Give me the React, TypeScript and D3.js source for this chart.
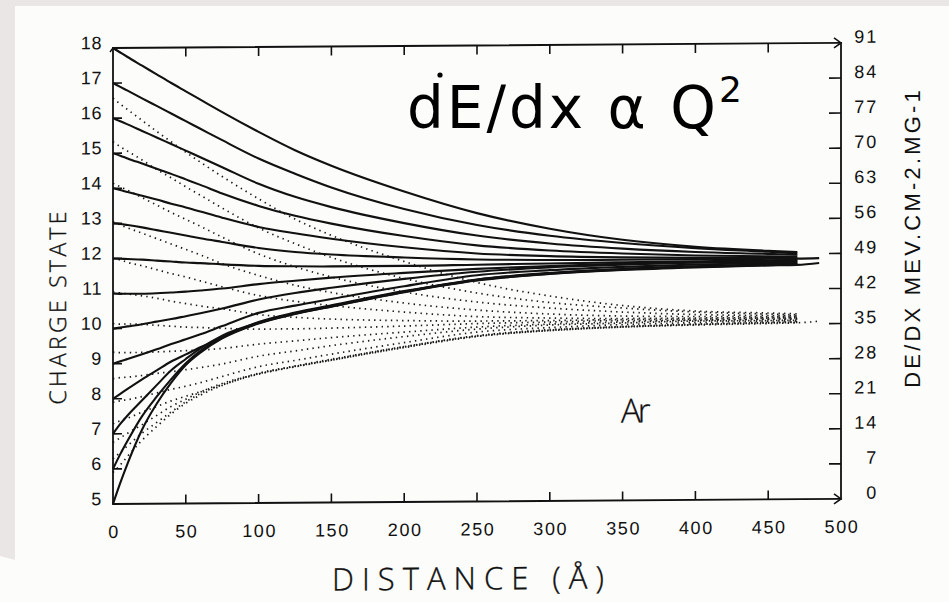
import React from 'react';
import * as d3 from 'd3';

// Distance samples (Å) shared by every curve
const DIST = [0, 5, 10, 20, 30, 40, 50, 60, 75, 100, 125, 150, 200, 250, 300, 350, 400, 450, 470, 485];

// Mean charge state vs. distance, one series per initial charge state
const q18 = [18, 17.87, 17.74, 17.49, 17.24, 16.99, 16.75, 16.51, 16.15, 15.58, 15.05, 14.6, 13.85, 13.22, 12.76, 12.43, 12.22, 12.09, 12.05, null];
const q17 = [17, 16.89, 16.78, 16.56, 16.34, 16.12, 15.9, 15.68, 15.35, 14.82, 14.38, 13.98, 13.35, 12.88, 12.56, 12.34, 12.18, 12.06, 12.01, null];
const q16 = [16, 15.91, 15.82, 15.63, 15.44, 15.25, 15.06, 14.87, 14.58, 14.1, 13.72, 13.42, 12.95, 12.58, 12.34, 12.18, 12.07, 12.0, 11.97, null];
const q15 = [15, 14.93, 14.85, 14.7, 14.55, 14.4, 14.24, 14.08, 13.83, 13.47, 13.18, 12.95, 12.58, 12.3, 12.14, 12.04, 11.97, 11.93, 11.92, null];
const q14 = [14, 13.95, 13.89, 13.78, 13.67, 13.55, 13.44, 13.32, 13.14, 12.87, 12.68, 12.52, 12.26, 12.07, 11.98, 11.93, 11.9, 11.89, 11.88, null];
const q13 = [13, 12.98, 12.95, 12.88, 12.8, 12.72, 12.64, 12.56, 12.45, 12.27, 12.15, 12.07, 11.97, 11.9, 11.87, 11.86, 11.86, 11.86, 11.86, 11.87];
const q12 = [12, 11.99, 11.98, 11.96, 11.93, 11.9, 11.87, 11.85, 11.81, 11.76, 11.74, 11.73, 11.73, 11.75, 11.77, 11.79, 11.8, 11.82, 11.82, null];
const q11 = [11, 10.99, 10.99, 10.99, 11.0, 11.02, 11.04, 11.07, 11.12, 11.24, 11.33, 11.41, 11.53, 11.63, 11.7, 11.75, 11.78, 11.8, 11.8, null];
const q10 = [10, 10.03, 10.06, 10.12, 10.19, 10.26, 10.34, 10.42, 10.55, 10.8, 10.98, 11.12, 11.36, 11.55, 11.66, 11.72, 11.76, 11.77, 11.77, null];
const q9 = [9, 9.07, 9.13, 9.26, 9.4, 9.55, 9.68, 9.82, 10.05, 10.42, 10.62, 10.8, 11.15, 11.45, 11.58, 11.66, 11.71, 11.74, 11.75, null];
const q8 = [8, 8.14, 8.28, 8.55, 8.8, 9.05, 9.25, 9.45, 9.72, 10.16, 10.42, 10.62, 11.01, 11.33, 11.5, 11.6, 11.66, 11.7, 11.71, null];
const q7 = [7, 7.28, 7.52, 7.95, 8.38, 8.8, 9.12, 9.42, 9.78, 10.14, 10.4, 10.6, 11.0, 11.32, 11.49, 11.59, 11.65, 11.69, 11.7, null];
const q6 = [6, 6.42, 6.8, 7.5, 8.05, 8.55, 9.0, 9.35, 9.73, 10.13, 10.39, 10.59, 10.99, 11.31, 11.48, 11.58, 11.64, 11.68, 11.69, null];
const q5 = [5, 5.6, 6.15, 7.12, 7.85, 8.45, 8.95, 9.3, 9.7, 10.12, 10.38, 10.58, 10.98, 11.3, 11.47, 11.57, 11.63, 11.67, 11.68, 11.73];

// Stopping power (MeV cm2/mg) along the same paths
const e18 = [81.0, 79.8, 78.7, 76.5, 74.3, 72.2, 70.1, 68.1, 65.2, 60.7, 56.6, 53.3, 48.0, 43.7, 40.9, 38.9, 37.7, 37.2, 37.0, null];
const e17 = [72.3, 71.3, 70.4, 68.6, 66.7, 65.0, 63.2, 61.5, 58.9, 54.9, 51.7, 48.9, 44.6, 41.6, 39.6, 38.4, 37.5, 37.0, 36.8, null];
const e16 = [64.0, 63.3, 62.6, 61.1, 59.6, 58.1, 56.7, 55.3, 53.1, 49.7, 47.1, 45.0, 41.9, 39.8, 38.5, 37.6, 37.0, 36.7, 36.6, null];
const e15 = [56.3, 55.7, 55.1, 54.0, 52.9, 51.8, 50.7, 49.6, 47.8, 45.4, 43.4, 41.9, 39.7, 38.2, 37.3, 36.8, 36.6, 36.5, 36.5, null];
const e14 = [49.0, 48.7, 48.2, 47.5, 46.7, 45.9, 45.2, 44.4, 43.2, 41.4, 40.2, 39.3, 37.9, 36.9, 36.5, 36.3, 36.3, 36.3, 36.3, null];
const e13 = [42.3, 42.1, 41.9, 41.5, 41.0, 40.4, 39.9, 39.4, 38.8, 37.6, 37.0, 36.6, 36.2, 36.0, 36.0, 36.1, 36.1, 36.2, 36.2, null];
const e12 = [36.0, 35.9, 35.9, 35.8, 35.6, 35.4, 35.2, 35.1, 34.9, 34.7, 34.7, 34.8, 35.1, 35.5, 35.7, 35.9, 35.9, 36.0, 36.0, null];
const e11 = [30.3, 30.2, 30.2, 30.2, 30.3, 30.4, 30.5, 30.6, 30.9, 31.7, 32.3, 32.9, 33.9, 34.8, 35.3, 35.6, 35.8, 35.9, 35.9, null];
const e10 = [25.0, 25.2, 25.3, 25.6, 26.0, 26.3, 26.7, 27.1, 27.8, 29.3, 30.3, 31.3, 33.0, 34.4, 35.1, 35.4, 35.7, 35.7, 35.7, null];
const e9 = [20.3, 20.6, 20.8, 21.4, 22.1, 22.8, 23.4, 24.1, 25.3, 27.2, 28.4, 29.6, 31.8, 33.8, 34.6, 35.1, 35.4, 35.6, 35.6, null];
const e8 = [16.0, 16.6, 17.1, 18.3, 19.4, 20.5, 21.4, 22.3, 23.6, 25.9, 27.3, 28.6, 31.0, 33.1, 34.2, 34.7, 35.1, 35.3, 35.4, null];
const e7 = [12.3, 13.2, 14.1, 15.8, 17.6, 19.4, 20.8, 22.2, 23.9, 25.8, 27.2, 28.5, 31.0, 33.0, 34.1, 34.7, 35.0, 35.3, 35.3, null];
const e6 = [9.0, 10.3, 11.6, 14.1, 16.2, 18.3, 20.3, 21.9, 23.7, 25.8, 27.2, 28.4, 30.9, 33.0, 34.0, 34.6, 35.0, 35.2, 35.3, null];
const e5 = [6.3, 7.8, 9.5, 12.7, 15.4, 17.9, 20.0, 21.6, 23.5, 25.7, 27.1, 28.4, 30.8, 32.9, 34.0, 34.6, 34.9, 35.1, 35.2, 35.5];

const CHARGE_CURVES = [q18, q17, q16, q15, q14, q13, q12, q11, q10, q9, q8, q7, q6, q5];
const DEDX_CURVES = [e18, e17, e16, e15, e14, e13, e12, e11, e10, e9, e8, e7, e6, e5];

const X_TICKS = [0, 50, 100, 150, 200, 250, 300, 350, 400, 450, 500];
const Q_TICKS = [5, 6, 7, 8, 9, 10, 11, 12, 13, 14, 15, 16, 17, 18];
const E_TICKS = [0, 7, 14, 21, 28, 35, 42, 49, 56, 63, 70, 77, 84, 91];

const NUM_FONT = '"Liberation Sans", Arial, sans-serif';
const LIGHT_FONT = '"Open Sans", "Lato", "Liberation Sans", sans-serif';

export default function App() {
  const W = 949;
  const H = 602;
  const x = d3.scaleLinear().domain([0, 500]).range([113, 841]);
  const yQ = d3.scaleLinear().domain([5, 18]).range([504, 48]);
  const yE = d3.scaleLinear().domain([0, 91]).range([504, 48]);
  const [x0, x1] = x.range();
  const [yB, yT] = yQ.range();

  const solidLine = d3
    .line<number | null>()
    .defined((v) => v != null)
    .x((_, i) => x(DIST[i]))
    .y((v) => yQ(v as number))
    .curve(d3.curveMonotoneX);

  const dottedLine = d3
    .line<number | null>()
    .defined((v) => v != null)
    .x((_, i) => x(DIST[i]))
    .y((v) => yE(v as number))
    .curve(d3.curveMonotoneX);

  const ink = '#111';

  return (
    <svg
      width={W}
      height={H}
      viewBox={`0 0 ${W} ${H}`}
      style={{ position: 'absolute', left: 0, top: 0, display: 'block' }}
    >
      <rect x={0} y={0} width={W} height={H} fill="#ebe6e6" />
      <polygon points={`15,6 ${W},6 ${W},${H} 0,${H} 0,556 15,560`} fill="#fcfcfa" />

      <g transform={`translate(${x0},0) skewY(-0.4) translate(${-x0},0)`}>
        {/* stopping-power curves, right axis */}
        {DEDX_CURVES.map((c, i) => (
          <path
            key={`e${i}`}
            d={dottedLine(c) || ''}
            fill="none"
            stroke="#1a1a1a"
            strokeWidth={1.7}
            strokeDasharray="1.4 4.2"
          />
        ))}
        {/* charge-state curves, left axis */}
        {CHARGE_CURVES.map((c, i) => (
          <path
            key={`q${i}`}
            d={solidLine(c) || ''}
            fill="none"
            stroke={ink}
            strokeWidth={2.1}
            strokeLinejoin="round"
          />
        ))}

        {/* frame */}
        <path
          d={`M${x0},${yT} L${x1},${yT} L${x1},${yB} L${x0},${yB} Z`}
          fill="none"
          stroke={ink}
          strokeWidth={1.8}
        />
        <path d={`M${x1 - 7},${yT - 5} L${x1},${yT} L${x1 - 7},${yT + 5}`} fill="none" stroke={ink} strokeWidth={1.6} />
        <path d={`M${x1 - 7},${yB - 5} L${x1},${yB} L${x1 - 7},${yB + 5}`} fill="none" stroke={ink} strokeWidth={1.6} />
        <path d={`M${x0 - 3},${yT + 4} L${x0},${yT} L${x0 + 5},${yT + 3}`} fill="none" stroke={ink} strokeWidth={1.4} />

        {/* distance ticks, top and bottom */}
        {X_TICKS.slice(1, -1).map((t) => (
          <g key={`xt${t}`}>
            <line x1={x(t)} x2={x(t)} y1={yB} y2={yB - 9} stroke={ink} strokeWidth={1.6} />
            <line x1={x(t)} x2={x(t)} y1={yT} y2={yT + 9} stroke={ink} strokeWidth={1.6} />
          </g>
        ))}
        {X_TICKS.map((t) => (
          <text
            key={`xl${t}`}
            x={x(t) + 1}
            y={yB + 34}
            textAnchor="middle"
            fontFamily={NUM_FONT}
            fontSize={18}
            letterSpacing={1.6}
            fill={ink}
          >
            {t}
          </text>
        ))}

        {/* charge-state ticks */}
        {Q_TICKS.slice(1, -1).map((t) => (
          <line key={`qt${t}`} x1={x0} x2={x0 + 9} y1={yQ(t)} y2={yQ(t)} stroke={ink} strokeWidth={1.6} />
        ))}
        {Q_TICKS.map((t) => (
          <text
            key={`ql${t}`}
            x={102}
            y={yQ(t) + 1}
            textAnchor="end"
            fontFamily={NUM_FONT}
            fontSize={18}
            letterSpacing={0.6}
            fill={ink}
          >
            {t}
          </text>
        ))}

        {/* stopping-power ticks */}
        {E_TICKS.slice(1, -1).map((t) => (
          <line key={`et${t}`} x1={x1} x2={x1 - 12} y1={yE(t)} y2={yE(t)} stroke={ink} strokeWidth={1.6} />
        ))}
        {E_TICKS.map((t) => (
          <text
            key={`el${t}`}
            x={878}
            y={yE(t)}
            textAnchor="end"
            fontFamily={NUM_FONT}
            fontSize={18}
            letterSpacing={1.8}
            fill={ink}
          >
            {t}
          </text>
        ))}

        {/* axis titles */}
        <text
          transform="translate(66,306) rotate(-90)"
          textAnchor="middle"
          fontFamily={LIGHT_FONT}
          fontWeight={300}
          fontSize={23}
          letterSpacing={3.3}
          fill={ink}
          stroke={ink}
          strokeWidth={0.35}
        >
          CHARGE STATE
        </text>
        <text
          transform="translate(920,243) rotate(-90)"
          textAnchor="middle"
          fontFamily={NUM_FONT}
          fontSize={22}
          letterSpacing={3.2}
          fill={ink}
        >
          DE/DX MEV.CM-2.MG-1
        </text>
        <text
          x={472}
          y={592}
          textAnchor="middle"
          fontFamily={LIGHT_FONT}
          fontWeight={300}
          fontSize={31}
          letterSpacing={8}
          fill={ink}
          stroke={ink}
          strokeWidth={0.35}
        >
          DISTANCE (Å)
        </text>
        <text
          x={621}
          y={426}
          fontFamily={LIGHT_FONT}
          fontWeight={300}
          fontSize={33}
          letterSpacing={-3}
          fill={ink}
          stroke={ink}
          strokeWidth={0.3}
        >
          Ar
        </text>
      </g>

      {/* annotation */}
      <text x={407} y={128} fontFamily='"DejaVu Sans", sans-serif' fontSize={58} letterSpacing={3} fill="#000">
        dE/dx α Q<tspan dy={-26} fontSize={36}>2</tspan>
      </text>
      <circle cx={440} cy={75} r={2.6} fill="#000" />
    </svg>
  );
}
